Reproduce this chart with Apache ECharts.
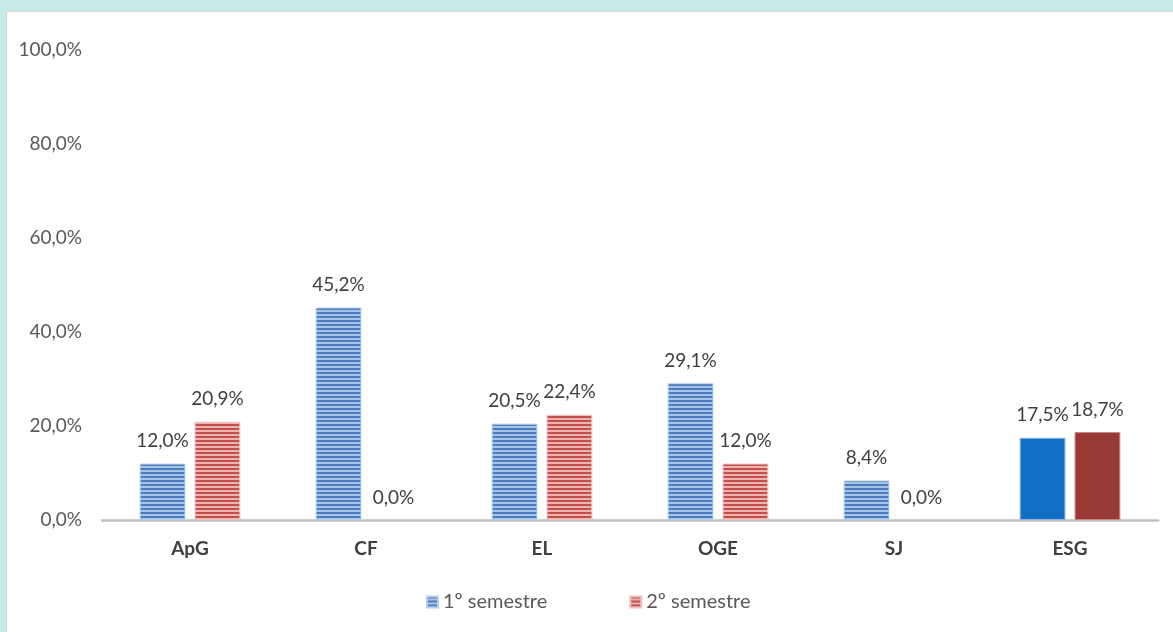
<!DOCTYPE html>
<html>
<head>
<meta charset="utf-8">
<script src="https://cdn.jsdelivr.net/npm/echarts@6/dist/echarts.min.js"></script>
<style>
html,body{margin:0;padding:0;background:#C6EAE7;width:1173px;height:632px;overflow:hidden;}
#paper{position:absolute;left:6px;top:11px;width:1167px;height:621px;background:#fff;border-left:1px solid #D6D6D6;border-top:1px solid #D6D6D6;box-sizing:border-box;}
#chart{position:absolute;left:0;top:0;width:1173px;height:632px;}
</style>
</head>
<body>
<div id="paper"></div>
<div id="chart"></div>
<script>
const categories = ['ApG', 'CF', 'EL', 'OGE', 'SJ', 'ESG'];
const seriesNames = ['1º semestre', '2º semestre'];
const sem1 = [12.0, 45.2, 20.5, 29.1, 8.4, 17.5];
const sem2 = [20.9, 0.0, 22.4, 12.0, 0.0, 18.7];
const yTicks = [0, 20, 40, 60, 80, 100];

function stripes(dark, light) {
  const c = document.createElement('canvas');
  c.width = 4; c.height = 4;
  const g = c.getContext('2d');
  g.fillStyle = light; g.fillRect(0, 0, 4, 4);
  g.fillStyle = dark; g.fillRect(0, 0, 4, 2);
  return { image: c, repeat: 'repeat' };
}
const bluePat = stripes('#4A7DBF', '#A9C3E4');
const redPat = stripes('#C24F4C', '#EDB3B1');
const solid = ['#1270C4', '#983936'];

function fmt(v) { return v.toFixed(1).replace('.', ',') + '%'; }
function build(vals, solidColor, border) {
  return vals.map((v, i) => {
    if (i === categories.length - 1)
      return { value: v, itemStyle: { color: solidColor, borderColor: border, borderWidth: 1 } };
    if (v === 0) return { value: v, itemStyle: { borderWidth: 0 } };
    return { value: v };
  });
}

const font = 'Lato, "Open Sans", sans-serif';
const chart = echarts.init(document.getElementById('chart'), null, { renderer: 'canvas' });
chart.setOption({
  animation: false,
  backgroundColor: 'transparent',
  textStyle: { fontFamily: font },
  grid: { left: 102, right: 15, top: 50, bottom: 112, containLabel: false },
  legend: {
    bottom: 15, left: 421, itemWidth: 11, itemHeight: 11, itemGap: 82,
    icon: 'rect',
    textStyle: { fontSize: 20, color: '#595959', fontFamily: font },
    data: seriesNames
  },
  xAxis: {
    type: 'category', data: categories,
    axisLine: { lineStyle: { color: '#BFBFBF', width: 2.5 } },
    axisTick: { show: false },
    axisLabel: { fontSize: 19, fontWeight: 'bold', color: '#404040', margin: 19, fontFamily: font }
  },
  yAxis: {
    type: 'value', min: 0, max: 100, interval: 20,
    axisLine: { show: false }, axisTick: { show: false }, splitLine: { show: false },
    axisLabel: { fontSize: 19, color: '#595959', margin: 20, fontFamily: font,
      formatter: v => yTicks.includes(v) ? fmt(v) : '' }
  },
  series: [
    { name: seriesNames[0], type: 'bar', data: build(sem1, solid[0], '#8FB3DE'),
      barWidth: '26%', barGap: '20%',
      itemStyle: { color: bluePat, borderColor: '#B9CDE8', borderWidth: 1 },
      label: { show: true, position: 'top', distance: 13, fontSize: 19, color: '#404040', fontFamily: font,
        formatter: p => fmt(p.value) } },
    { name: seriesNames[1], type: 'bar', data: build(sem2, solid[1], '#C98583'),
      barWidth: '26%', barGap: '20%',
      itemStyle: { color: redPat, borderColor: '#EBC0BF', borderWidth: 1 },
      label: { show: true, position: 'top', distance: 13, fontSize: 19, color: '#404040', fontFamily: font,
        formatter: p => fmt(p.value) } }
  ]
});
</script>
</body>
</html>
